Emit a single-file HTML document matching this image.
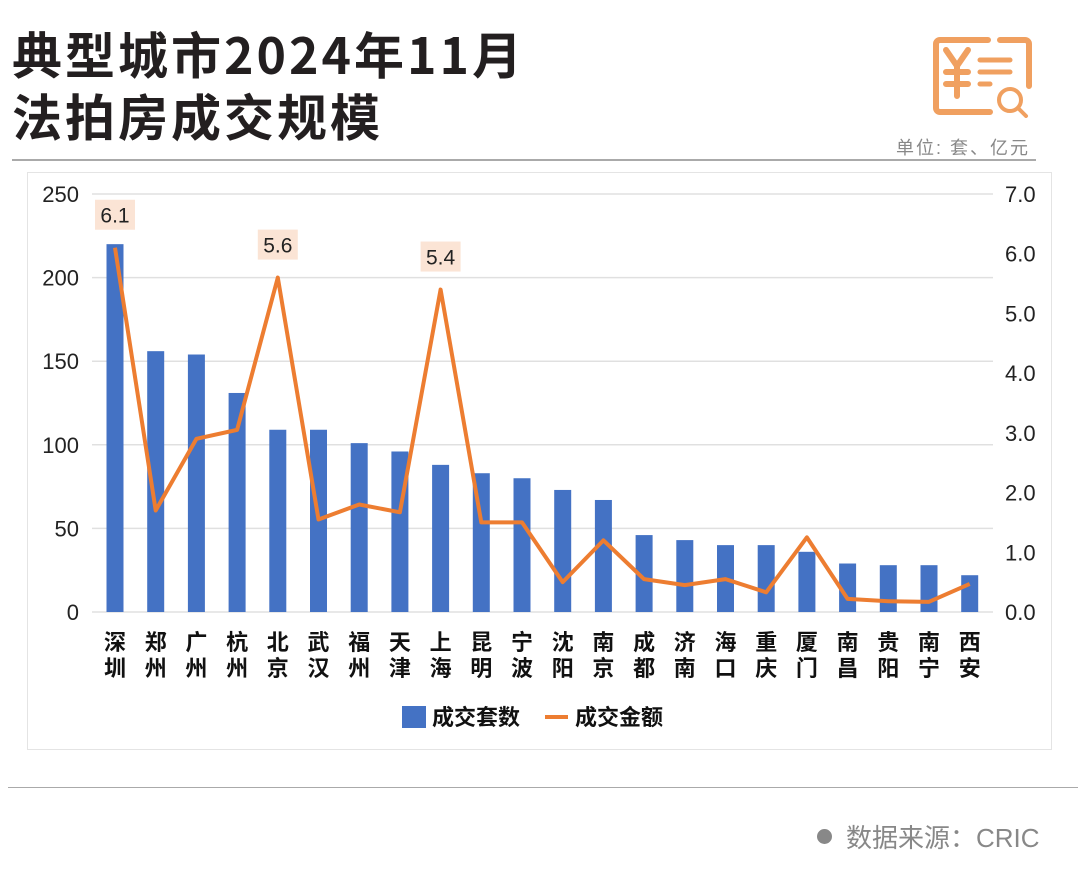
<!DOCTYPE html>
<html><head><meta charset="utf-8"><style>
body{margin:0;width:1080px;height:894px;background:#fff;overflow:hidden;font-family:"Liberation Sans","Noto Sans CJK SC",sans-serif;}
.abs{position:absolute}
</style></head><body>
<div class="abs" style="left:12px;top:22px;font-size:50px;font-weight:bold;line-height:62px;color:#231f20;font-family:'Noto Sans CJK SC',sans-serif;letter-spacing:3px;white-space:nowrap">典型城市2024年11月<br>法拍房成交规模</div>
<svg class="abs" style="left:930px;top:36px" width="102" height="82" viewBox="0 0 102 82">
<path d="M70 4 H95 a4 4 0 0 1 4 4 V50 M60 76 H10 a4 4 0 0 1 -4 -4 V8 a4 4 0 0 1 4 -4 H58" fill="none" stroke="#f0a060" stroke-width="6" stroke-linecap="round"/>
<path d="M16 14 L27 30 L38 14 M27 30 V60 M16 36 H38 M16 48 H38" fill="none" stroke="#f0a060" stroke-width="6" stroke-linecap="round"/>
<path d="M50 24 H80 M50 36 H80 M50 48 H60" stroke="#f0a060" stroke-width="5" stroke-linecap="round"/>
<circle cx="80" cy="64" r="11" fill="none" stroke="#f0a060" stroke-width="4"/>
<path d="M88 72 L96 80" stroke="#f0a060" stroke-width="4" stroke-linecap="round"/>
</svg>
<div class="abs" style="left:896px;top:134px;font-size:18px;color:#888;letter-spacing:2px;white-space:nowrap">单位: 套、亿元</div>
<div class="abs" style="left:12px;top:159px;width:1024px;height:2px;background:#aaa"></div>
<div class="abs" style="left:27px;top:172px;width:1025px;height:578px;border:1px solid #e4e4e4;box-sizing:border-box"></div>
<svg id="chart" class="abs" style="left:0;top:0" width="1080" height="894"></svg>
<div class="abs" style="left:8px;top:787px;width:1070px;height:1px;background:#aaa"></div>
<div class="abs" style="left:817px;top:818px;font-size:26px;color:#888;white-space:nowrap"><span style="display:inline-block;width:15px;height:15px;border-radius:50%;background:#888;margin-right:14px;vertical-align:3px"></span>数据来源：CRIC</div>
<script>
const categories=["深圳","郑州","广州","杭州","北京","武汉","福州","天津","上海","昆明","宁波","沈阳","南京","成都","济南","海口","重庆","厦门","南昌","贵阳","南宁","西安"];
const counts=[220,156,154,131,109,109,101,96,88,83,80,73,67,46,43,40,40,36,29,28,28,22];
const amounts=[6.1,1.7,2.9,3.05,5.6,1.55,1.8,1.67,5.4,1.5,1.5,0.5,1.2,0.55,0.45,0.55,0.33,1.25,0.22,0.18,0.17,0.47];
const leftTicks=[0,50,100,150,200,250];
const rightTicks=["0.0","1.0","2.0","3.0","4.0","5.0","6.0","7.0"];
const labeledIdx=[0,4,8];
const NS="http://www.w3.org/2000/svg";
const svg=document.getElementById('chart');
const y0=612,yTop=194,x0=115,step=40.7;
const yL=v=>y0-(v/250)*(y0-yTop);
const yR=v=>y0-(v/7)*(y0-yTop);
const xC=i=>x0+i*step;
function mk(t,a){const e=document.createElementNS(NS,t);for(const k in a)e.setAttribute(k,a[k]);svg.appendChild(e);return e;}
leftTicks.forEach(v=>{
 const g=mk('line',{x1:92,x2:993,y1:yL(v),y2:yL(v),stroke:'#e0e0e0','stroke-width':1.5});
 
 
 const t=mk('text',{x:79,y:yL(v)+8,'text-anchor':'end','font-size':22,fill:'#222'});t.textContent=v;
 
 
});
rightTicks.forEach(v=>{
 const t=mk('text',{x:1005,y:yR(parseFloat(v))+8,'font-size':22,fill:'#222'});t.textContent=v;
 
 
});
counts.forEach((v,i)=>{
 const r=mk('rect',{x:xC(i)-8.5,y:yL(v),width:17,height:y0-yL(v),fill:'#4472c4'});
 
 
});
const pts=amounts.map((v,i)=>xC(i)+','+yR(v)).join(' ');
const pl=mk('polyline',{points:pts,fill:'none',stroke:'#ed7d31','stroke-width':4,'stroke-linejoin':'round'});


labeledIdx.forEach(i=>{
 const y=yR(amounts[i])-30;
 const b=mk('rect',{x:xC(i)-20,y:y-18,width:40,height:30,fill:'#fbe4d5'});
 
 
 const t=mk('text',{x:xC(i),y:y+5,'text-anchor':'middle','font-size':21,fill:'#222'});t.textContent=amounts[i].toFixed(1);
 
 
});
categories.forEach((c,i)=>{
 [0,1].forEach(k=>{
  const t=mk('text',{x:xC(i),y:650+k*26,'text-anchor':'middle','font-size':22,'font-weight':'bold',fill:'#111','font-family':'Noto Sans CJK SC, sans-serif'});t.textContent=c[k];
  
  
 });
});
const ls=mk('rect',{x:402,y:706,width:24,height:22,fill:'#4472c4'});


const lt=mk('text',{x:432,y:725,'font-size':22,'font-weight':'bold',fill:'#111','font-family':'Noto Sans CJK SC, sans-serif'});lt.textContent='成交套数';


const ll=mk('line',{x1:545,x2:568,y1:717,y2:717,stroke:'#ed7d31','stroke-width':4});


const lt2=mk('text',{x:575,y:725,'font-size':22,'font-weight':'bold',fill:'#111','font-family':'Noto Sans CJK SC, sans-serif'});lt2.textContent='成交金额';


</script>
</body></html>
